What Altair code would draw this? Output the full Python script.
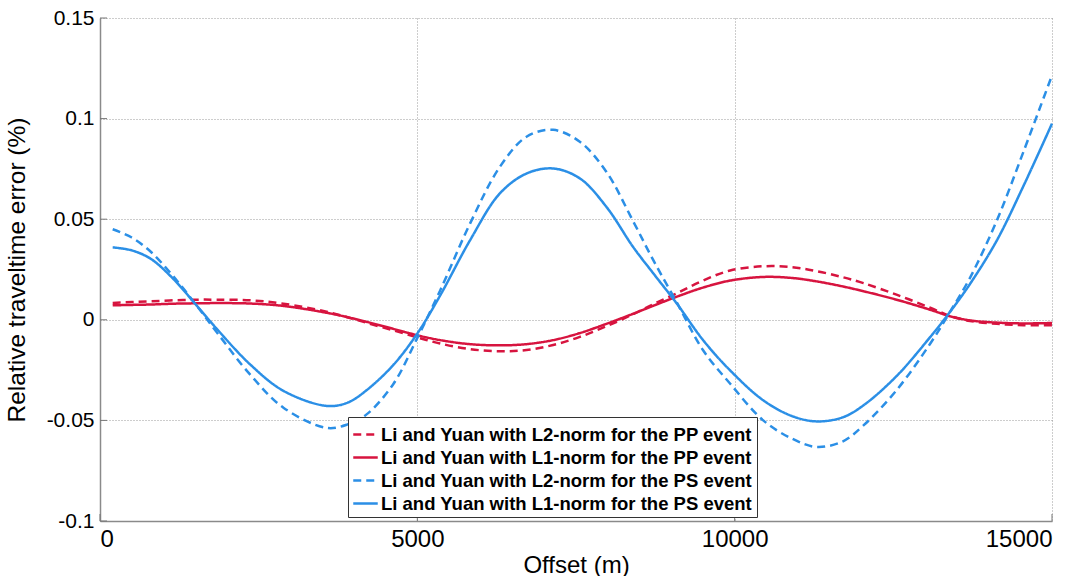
import altair as alt
import pandas as pd

offsets = [200, 500, 800, 1150, 1520, 1840, 2360, 2890, 3570, 3900, 4200, 4620, 5000, 5360, 5830,
           6300, 6720, 7140, 7560, 7980, 8400, 8720, 9090, 9500, 9930, 10450, 10900,
           11290, 11700, 12030, 12550, 13080, 13390, 13710, 14130, 14550, 15000]

pp_l2 = [0.0084, 0.0088, 0.0092, 0.0097, 0.0100, 0.0100, 0.0097, 0.0080, 0.0040, 0.0013, -0.0015,
         -0.0052, -0.0088, -0.0118, -0.0146, -0.0156, -0.0150, -0.0125, -0.0085, -0.0032,
         0.0028, 0.0078, 0.0132, 0.0195, 0.0245, 0.0266, 0.0262, 0.0242, 0.0212, 0.0182,
         0.0125, 0.0060, 0.0020, -0.0006, -0.0020, -0.0027, -0.0027]
pp_l1 = [0.0072, 0.0074, 0.0076, 0.0080, 0.0082, 0.0083, 0.0081, 0.0069, 0.0035, 0.0013, -0.0010,
         -0.0045, -0.0077, -0.0101, -0.0121, -0.0127, -0.0121, -0.0101, -0.0066, -0.0020,
         0.0030, 0.0070, 0.0115, 0.0160, 0.0195, 0.0213, 0.0208, 0.0191, 0.0166, 0.0142,
         0.0100, 0.0050, 0.0018, -0.0003, -0.0014, -0.0018, -0.0016]
ps_l2 = [0.0450, 0.0409, 0.0338, 0.0218, 0.0072, -0.0062, -0.0270, -0.0437, -0.0537, -0.0520,
         -0.0470, -0.0320, -0.0090, 0.0146, 0.0478, 0.0760, 0.0910, 0.0944, 0.0885, 0.0735,
         0.0490, 0.0295, 0.0085, -0.0150, -0.0318, -0.0500, -0.0590, -0.0632, -0.0605,
         -0.0525, -0.0350, -0.0119, 0.0038, 0.0210, 0.0493, 0.0835, 0.1215]
ps_l1 = [0.0360, 0.0345, 0.0303, 0.0205, 0.0072, -0.0045, -0.0220, -0.0353, -0.0428, -0.0412,
         -0.0350, -0.0225, -0.0068, 0.0121, 0.0395, 0.0628, 0.0727, 0.0752, 0.0703, 0.0561,
         0.0362, 0.0230, 0.0080, -0.0100, -0.0252, -0.0400, -0.0478, -0.0505, -0.0485,
         -0.0425, -0.0280, -0.0086, 0.0038, 0.0179, 0.0394, 0.0665, 0.0975]

series_names = [
    "Li and Yuan with L2-norm for the PP event",
    "Li and Yuan with L1-norm for the PP event",
    "Li and Yuan with L2-norm for the PS event",
    "Li and Yuan with L1-norm for the PS event",
]
series_colors = ["#d7143f", "#d7143f", "#2b8fe6", "#2b8fe6"]
series_dashes = [[8, 5], [1, 0], [8, 5], [1, 0]]

x_ticks = [0, 5000, 10000, 15000]
y_ticks = [-0.1, -0.05, 0, 0.05, 0.1, 0.15]

rows = []
for name, vals in zip(series_names, [pp_l2, pp_l1, ps_l2, ps_l1]):
    for o, v in zip(offsets, vals):
        rows.append({"offset": o, "error": v, "series": name})
df = pd.DataFrame(rows)

W, H = 952, 503

x_scale = alt.Scale(domain=[0, 15000], nice=False, zero=False)
y_scale = alt.Scale(domain=[-0.1, 0.15], nice=False, zero=False)
x_axis = alt.Axis(values=x_ticks, title="Offset (m)", labelExpr="'' + datum.value",
                  labelPadding=6, titlePadding=2, labelFontSize=24, titleFontSize=24)
y_axis = alt.Axis(values=y_ticks, title="Relative traveltime error (%)",
                  labelExpr="'' + datum.value", labelPadding=6, titlePadding=17,
                  labelFontSize=21, titleFontSize=24.5)

lines = alt.Chart(df).mark_line(strokeWidth=2.5, interpolate="catmull-rom").encode(
    x=alt.X("offset:Q", scale=x_scale, axis=x_axis),
    y=alt.Y("error:Q", scale=y_scale, axis=y_axis),
    color=alt.Color("series:N", scale=alt.Scale(domain=series_names, range=series_colors),
                    legend=alt.Legend(title=None)),
    strokeDash=alt.StrokeDash("series:N", scale=alt.Scale(domain=series_names, range=series_dashes),
                              legend=alt.Legend(title=None)),
)

ytick_df = pd.DataFrame({"error": y_ticks})
xtick_df = pd.DataFrame({"offset": x_ticks})

yticks = alt.Chart(ytick_df).mark_rule(color="#777", strokeWidth=1).encode(
    y=alt.Y("error:Q", scale=y_scale, axis=y_axis),
    x=alt.value(0), x2=alt.value(7),
)
xticks = alt.Chart(xtick_df).mark_rule(color="#777", strokeWidth=1).encode(
    x=alt.X("offset:Q", scale=x_scale, axis=x_axis),
    y=alt.value(H), y2=alt.value(H - 7),
)

chart = alt.layer(lines, yticks, xticks).properties(
    width=W, height=H,
    autosize=alt.AutoSizeParams(type="none"),
    padding={"left": 100, "top": 18, "right": 34, "bottom": 55},
    background="white",
).configure_view(stroke=None).configure_axis(
    domainColor="#8a8a8a", domainWidth=1.5, tickSize=0,
    labelFont="Liberation Sans", labelColor="black",
    titleFont="Liberation Sans", titleFontWeight="normal", titleColor="black",
    grid=True, gridColor="#9a9a9a", gridDash=[1, 2], gridWidth=1,
).configure_legend(
    orient="none", legendX=248, legendY=399,
    fillColor="white", strokeColor="#333", padding=4, cornerRadius=0,
    symbolType="stroke", symbolSize=600, symbolStrokeWidth=2.5,
    labelFont="Liberation Sans", labelFontWeight="bold", labelFontSize=18.5,
    labelColor="black", labelLimit=0, rowPadding=-1, labelOffset=2,
)

chart.save("out.html", embed_options={"renderer": "svg", "actions": False})
